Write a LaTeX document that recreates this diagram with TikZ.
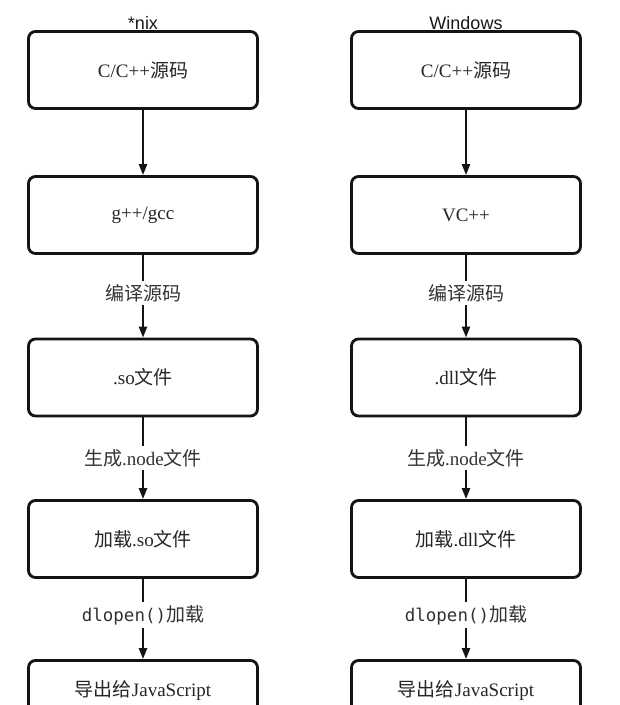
\documentclass[tikz,border=0pt]{standalone}
\usepackage{fontspec}
\setmainfont{Liberation Serif}
\newfontfamily\cjk{Noto Sans CJK SC}
\newfontfamily\titlefont{Liberation Sans}
\newfontfamily\monofont{DejaVu Sans Mono}
\usetikzlibrary{arrows.meta}
\begin{document}
\begin{tikzpicture}[x=1pt,y=-1pt,
  box/.style={draw=black!92, line width=2.8pt, rounded corners=7pt, minimum height=77pt, text=black!85, font=\fontsize{19}{22}\selectfont, inner sep=0pt},
  lbox/.style={box, minimum width=229pt},
  btext/.style={text=black!85, font=\fontsize{19}{22}\selectfont, inner sep=0pt},
  lbl/.style={font=\fontsize{19}{22}\selectfont, text=black!80, inner sep=3pt, fill=white},
  ttl/.style={font=\titlefont\fontsize{18}{21}\selectfont, text=black!90},
  conn/.style={line width=2.2pt, draw=black!92},
  arr/.style={conn, -{Triangle[length=11pt,width=8pt]}}]
\clip (0,0) rectangle (620,705);
\fill[white] (0,0) rectangle (620,705);
% titles
\node[ttl] (t1) at (143,23) {*nix};
\node[ttl] (t2) at (466,23) {Windows};
% left column
\node[lbox] (a1) at (143,70) {C/C++{\cjk 源码}};
\node[lbox] (a2) at (143,215) {g++/gcc};
\node[lbox] (a3) at (143,377.5) {.so{\cjk 文件}};
\node[lbox] (a4) at (143,539) {{\cjk 加载}.so{\cjk 文件}};
\node[lbox] (a5) at (143,699) {};
\node[btext] (a5t) at (143,691) {{\cjk 导出给}JavaScript};
\node[lbl] (la1) at (143,293) {\cjk 编译源码};
\node[lbl] (la2) at (143,458) {{\cjk 生成}.node{\cjk 文件}};
\node[lbl] (la3) at (143,615) {{\monofont\fontsize{17.5}{20}\selectfont dlopen()}{\cjk 加载}};
% right column
\node[lbox] (b1) at (466,70) {C/C++{\cjk 源码}};
\node[lbox] (b2) at (466,215) {VC++};
\node[lbox] (b3) at (466,377.5) {.dll{\cjk 文件}};
\node[lbox] (b4) at (466,539) {{\cjk 加载}.dll{\cjk 文件}};
\node[lbox] (b5) at (466,699) {};
\node[btext] (b5t) at (466,691) {{\cjk 导出给}JavaScript};
\node[lbl] (lb1) at (466,293) {\cjk 编译源码};
\node[lbl] (lb2) at (466,458) {{\cjk 生成}.node{\cjk 文件}};
\node[lbl] (lb3) at (466,615) {{\monofont\fontsize{17.5}{20}\selectfont dlopen()}{\cjk 加载}};
% connectors
\foreach \c in {a,b}{
  \draw[arr] (\c1.south) -- (\c2.north);
  \draw[conn] (\c2.south) -- (l\c1.north);
  \draw[arr] (l\c1.south) -- (\c3.north);
  \draw[conn] (\c3.south) -- (l\c2.north);
  \draw[arr] (l\c2.south) -- (\c4.north);
  \draw[conn] (\c4.south) -- (l\c3.north);
  \draw[arr] (l\c3.south) -- (\c5.north);
}
\end{tikzpicture}
\end{document}
